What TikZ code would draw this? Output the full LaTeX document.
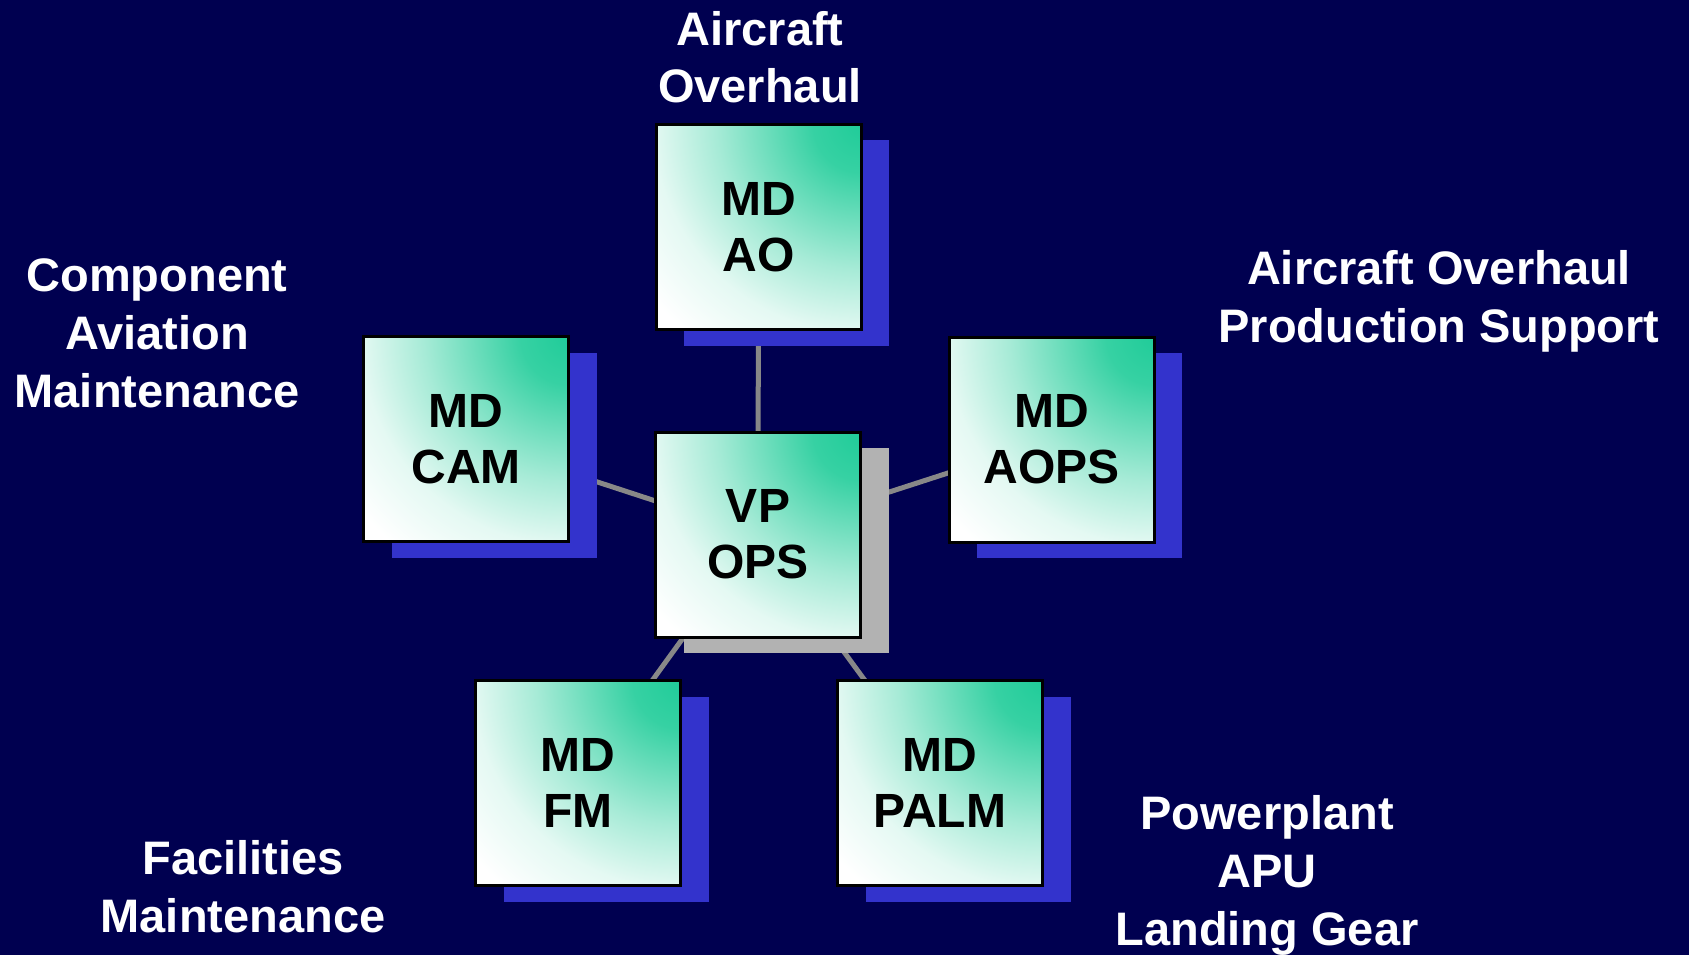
\documentclass[tikz,border=0pt]{standalone}
\usepackage{fontspec}
\setmainfont{Liberation Sans}
\usetikzlibrary{shadows}
\definecolor{navybg}{RGB}{0,0,80}
\definecolor{shblue}{RGB}{51,51,204}
\definecolor{shgray}{RGB}{178,178,178}
\definecolor{boxgreen}{RGB}{32,204,153}
\definecolor{linkgray}{RGB}{136,136,136}
\pgfdeclareradialshading{cornerglow}{\pgfpoint{0bp}{0bp}}{%
  color(0bp)=(boxgreen); color(3bp)=(boxgreen!90!white); color(9bp)=(boxgreen!40!white);
  color(13bp)=(boxgreen!12!white); color(17bp)=(white); color(50bp)=(white)}
\pgfdeclarelayer{background}
\pgfsetlayers{background,main}
\tikzset{
  orgbox/.style={draw=black, line width=3pt, minimum width=205pt, minimum height=205pt,
    inner sep=0pt, align=center, font=\bfseries\fontsize{48}{56}\selectfont, text=black,
    path picture={\shade[shading=cornerglow]
      (path picture bounding box.north east) circle (400pt);},
    copy shadow={shadow xshift=28pt, shadow yshift=-16pt, fill=#1, draw=none, line width=0pt}},
  orgbox/.default=shblue,
  lbl/.style={text=white, align=center, anchor=base, inner sep=0pt,
    font=\bfseries\fontsize{47}{58}\selectfont},
  link/.style={draw=linkgray, line width=5pt}
}
\begin{document}
\begin{tikzpicture}[x=1pt,y=-1pt]
\useasboundingbox (0,0) rectangle (1689,955);
\node[orgbox=shgray] (vp) at (758,534.5) {VP\\OPS};
\node[orgbox] (ao) at (758.5,227) {MD\\AO};
\node[orgbox] (cam) at (466,439) {MD\\CAM};
\node[orgbox] (aops) at (1051.5,439.5) {MD\\AOPS};
\node[orgbox] (fm) at (578,783) {MD\\FM};
\node[orgbox] (palm) at (940,783) {MD\\PALM};
\begin{pgfonlayer}{background}
\fill[navybg] (0,0) rectangle (1689,955);
\draw[link] (vp.center) -- (ao.center);
\draw[link] (vp.center) -- (cam.center);
\draw[link] (vp.center) -- (aops.center);
\draw[link] (vp.center) -- (fm.center);
\draw[link] (vp.center) -- (palm.center);
\end{pgfonlayer}
\node[lbl] (lao) at (760,103) {Aircraft\\Overhaul};
\node[lbl] (lcam) at (157,407) {Component\\Aviation\\Maintenance};
\node[lbl] (laops) at (1439,342) {Aircraft Overhaul\\Production Support};
\node[lbl] (lfm) at (243,932) {Facilities\\Maintenance};
\node[lbl] (lpalm) at (1267,945) {Powerplant\\APU\\Landing Gear};
\end{tikzpicture}
\end{document}
